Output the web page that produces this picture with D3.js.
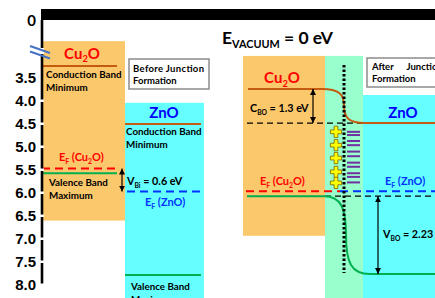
<!DOCTYPE html>
<html>
<head>
<meta charset="utf-8">
<script src="https://cdnjs.cloudflare.com/ajax/libs/d3/7.8.5/d3.min.js"></script>
<style>
body{margin:0;background:#fff;}
svg{display:block;font-family:Lato,"Open Sans",sans-serif;font-weight:bold;}
</style>
</head>
<body>
<div id="chart"></div>
<script>
// energies, eV below vacuum level
var tickValues = [3.5, 4.0, 4.5, 5.0, 5.5, 6.0, 6.5, 7.0, 7.5, 8.0];
var tickLabels = ["3.5", "4.0", "4.5", "5.0", "5.5", "6.0", "6.5", "7.0", "7.5", "8.0"];
var materials = ["Cu2O", "ZnO"];

// before junction formation
var boxTop = [2.7, 4.04];
var boxBottom = [6.6, 8.4];
var cbmBefore = [3.24, 4.5];
var vbmBefore = [5.57, 7.78];
var efBefore = [5.47, 5.97];

// after junction formation
var regionTop = [3.02, 3.02, 3.87];
var regionBottom = [6.93, 8.4, 8.4];
var cbmAfter = [3.74, 4.48];
var vbmAfter = [6.07, 7.76];
var efAfter = 5.96;
var plusLevels = [4.67, 4.96, 5.24, 5.54, 5.78];
var minusLevels = [4.67, 4.74, 4.87, 4.96, 5.10, 5.20, 5.34, 5.43, 5.57, 5.65, 5.77];

var offsetNames = ["Bi", "BO", "BO"];
var offsetValues = ["0.6", "1.3", "2.23"];

var w = 435, h = 298;

var y = d3.scaleLinear().domain([3.5, 8.0]).range([78, 285]);

var svg = d3.select("#chart").append("svg")
  .attr("width", w).attr("height", h);

var defs = svg.append("defs");
defs.append("marker").attr("id", "arr")
  .attr("viewBox", "0 0 6 6").attr("refX", 6).attr("refY", 3)
  .attr("markerWidth", 6).attr("markerHeight", 6)
  .attr("markerUnits", "userSpaceOnUse")
  .attr("orient", "auto-start-reverse")
  .append("path").attr("d", "M0,0L6,3L0,6z").attr("fill", "#000");

var ORANGE = "#FCC86C", CYAN = "#66FFFF", JGREEN = "#99FFCC";
var BROWN = "#C55A11", GREEN = "#00B050", RED = "#FF0000", BLUE = "#0033FF";

function label(x, yy, parts, size, color, anchor) {
  var t = svg.append("text").attr("x", x).attr("y", yy)
    .attr("font-size", size).attr("fill", color || "#000")
    .attr("text-anchor", anchor || "start");
  var shift = 0;
  parts.forEach(function (p) {
    var s = typeof p === "string" ? {t: p} : p;
    var ts = t.append("tspan").text(s.t);
    if (s.sub) {
      ts.attr("font-size", size * 0.62).attr("dy", size * 0.25 - shift);
      shift = size * 0.25;
    } else if (shift) {
      ts.attr("dy", -shift);
      shift = 0;
    }
  });
  return t;
}

function hline(x1, x2, v, color, width, dash) {
  svg.append("line").attr("x1", x1).attr("x2", x2)
    .attr("y1", y(v)).attr("y2", y(v))
    .attr("stroke", color).attr("stroke-width", width)
    .attr("stroke-dasharray", dash || null);
}

function arrow(x, v1, v2) {
  svg.append("line").attr("x1", x).attr("x2", x)
    .attr("y1", y(v1)).attr("y2", y(v2))
    .attr("stroke", "#000").attr("stroke-width", 1.2)
    .attr("marker-start", "url(#arr)").attr("marker-end", "url(#arr)");
}

// ---------- before junction ----------
var boxX = [[42, 125], [125, 204]];
var lineX = [[42, 117], [125, 201]];
var boxFill = [ORANGE, CYAN];

svg.selectAll("rect.before").data(materials).enter().append("rect")
  .attr("class", "before")
  .attr("x", (d, i) => boxX[i][0])
  .attr("width", (d, i) => boxX[i][1] - boxX[i][0])
  .attr("y", (d, i) => y(boxTop[i]))
  .attr("height", (d, i) => y(boxBottom[i]) - y(boxTop[i]))
  .attr("fill", (d, i) => boxFill[i]);

materials.forEach(function (m, i) {
  hline(lineX[i][0], lineX[i][1], cbmBefore[i], BROWN, 2);
  hline(lineX[i][0], lineX[i][1], vbmBefore[i], GREEN, 2);
});
hline(42, 117, efBefore[0], RED, 2, "8,5");
hline(127, 201, efBefore[1], BLUE, 2, "8,5");

label(82, 58.5, ["Cu", {t: "2", sub: true}, "O"], 15, RED, "middle");
label(164, 118, ["ZnO"], 15, "#0000FF", "middle");
label(46, 78, ["Conduction Band"], 9.8);
label(46, 91, ["Minimum"], 9.8);
label(126, 135, ["Conduction Band"], 9.8);
label(126, 148, ["Minimum"], 9.8);
label(49, 186, ["Valence Band"], 9.8);
label(49, 199, ["Maximum"], 9.8);
label(131, 290, ["Valence Band"], 9.8);
label(131, 303, ["Maximum"], 9.8);

label(59, 161, ["E", {t: "F", sub: true}, " (Cu", {t: "2", sub: true}, "O)"], 11, RED);
label(145, 206, ["E", {t: "F", sub: true}, " (ZnO)"], 11, BLUE);

arrow(122, efBefore[0], efBefore[1]);
label(127, 185, ["V", {t: offsetNames[0], sub: true}, " = " + offsetValues[0] + " eV"], 10.8);

svg.append("rect").attr("x", 129).attr("y", 59).attr("width", 80).attr("height", 30)
  .attr("fill", "#fff").attr("stroke", "#8c8c8c").attr("stroke-width", 1.5);
label(133, 72, ["Before Junction"], 9.5).attr("textLength", 71).attr("lengthAdjust", "spacing");
label(133, 84, ["Formation"], 9.5);

// ---------- after junction ----------
var regX = [[243, 325], [325, 363], [363, 435]];
var regFill = [ORANGE, JGREEN, CYAN];
svg.selectAll("rect.after").data(regFill).enter().append("rect")
  .attr("class", "after")
  .attr("x", (d, i) => regX[i][0])
  .attr("width", (d, i) => regX[i][1] - regX[i][0])
  .attr("y", (d, i) => y(regionTop[i]))
  .attr("height", (d, i) => y(regionBottom[i]) - y(regionTop[i]))
  .attr("fill", d => d);

svg.append("rect").attr("x", 367).attr("y", 58).attr("width", 80).attr("height", 29)
  .attr("fill", "#fff").attr("stroke", "#8c8c8c").attr("stroke-width", 1.5);
label(372, 70, ["After Junction"], 9.5).attr("word-spacing", 11);
label(372, 82, ["Formation"], 9.5);

// reference dashed lines
hline(247, 375, cbmAfter[1], "#000", 1.3, "6,4");
hline(325, 435, vbmAfter[0], "#000", 1.3, "6,4");

// bent bands
var xj = 344;
function bent(a, b, x0, x1, x2, x3) {
  var p = d3.path();
  var ya = y(a), yb = y(b), ym = (ya + yb) / 2;
  p.moveTo(x0, ya);
  p.lineTo(x1, ya);
  p.bezierCurveTo(x2 - 5, ya, x2, ya + (ym - ya) * 0.3, x2, ym);
  p.bezierCurveTo(x2, yb - (yb - ym) * 0.3, x2 + 5, yb, x3, yb);
  p.lineTo(435, yb);
  return p.toString();
}
svg.append("path").attr("d", bent(cbmAfter[0], cbmAfter[1], 248, 322, xj, 365))
  .attr("fill", "none").attr("stroke", BROWN).attr("stroke-width", 2);
svg.append("path").attr("d", bent(vbmAfter[0], vbmAfter[1], 247, 324, xj + 2, 370))
  .attr("fill", "none").attr("stroke", GREEN).attr("stroke-width", 2);

// Fermi level after
hline(246, 340, efAfter, RED, 2, "8,5");
hline(340, 435, efAfter, BLUE, 2, "8,5");

// space charge
svg.selectAll("path.plus").data(plusLevels).enter().append("path")
  .attr("class", "plus")
  .attr("transform", d => "translate(336," + y(d) + ")")
  .attr("d", d3.symbol(d3.symbolCross, 70))
  .attr("fill", "#FFFF00").attr("stroke", "#7F6000").attr("stroke-width", 0.8);
svg.selectAll("line.minus").data(minusLevels).enter().append("line")
  .attr("class", "minus")
  .attr("x1", 347).attr("x2", 360)
  .attr("y1", d => y(d)).attr("y2", d => y(d))
  .attr("stroke", "#7030A0").attr("stroke-width", 2);

// junction
svg.append("line").attr("x1", xj).attr("x2", xj).attr("y1", 65).attr("y2", 273)
  .attr("stroke", "#000").attr("stroke-width", 3).attr("stroke-dasharray", "2.5,2");

label(282, 83, ["Cu", {t: "2", sub: true}, "O"], 15, RED, "middle");
label(403, 118, ["ZnO"], 15, "#0000FF", "middle");
label(260, 185, ["E", {t: "F", sub: true}, " (Cu", {t: "2", sub: true}, "O)"], 11, RED);
label(385, 185, ["E", {t: "F", sub: true}, " (ZnO)"], 11, BLUE);

arrow(313, cbmAfter[0], cbmAfter[1]);
label(250, 112, ["C", {t: offsetNames[1], sub: true}, " =  " + offsetValues[1] + " eV"], 10.8);
arrow(378, vbmAfter[0], vbmAfter[1]);
label(383, 238, ["V", {t: offsetNames[2], sub: true}, " = " + offsetValues[2] + " eV"], 10.8);

// ---------- vacuum level + axis ----------
svg.append("rect").attr("x", 41).attr("y", 9).attr("width", w - 41).attr("height", 11).attr("fill", "#000");
label(222, 44, ["E", {t: "VACUUM", sub: true}, " = 0 eV"], 17.5);

var axis = d3.axisLeft(y).tickValues(tickValues)
  .tickFormat((d, i) => tickLabels[i]).tickSize(0).tickPadding(6);
var ag = svg.append("g").attr("transform", "translate(42,0)").call(axis);
ag.select(".domain").remove();
ag.selectAll("text").attr("font-size", 15).attr("font-family", null).attr("fill", "#000").attr("font-weight", "bold");

// axis line, broken between 0 and 3.5, small gaps at ticks
svg.append("line").attr("x1", 42).attr("x2", 42).attr("y1", 20).attr("y2", y(8.0))
  .attr("stroke", "#000").attr("stroke-width", 2.6);
svg.selectAll("rect.gap").data(tickValues.slice(1)).enter().append("rect")
  .attr("class", "gap")
  .attr("x", 40).attr("width", 4).attr("y", d => y(d) - 1.5).attr("height", 2.5)
  .attr("fill", "#fff");
svg.append("rect").attr("x", 40).attr("y", 48).attr("width", 4).attr("height", 6).attr("fill", "#fff");
svg.selectAll("line.brk").data([0, 5.5]).enter().append("line")
  .attr("class", "brk")
  .attr("x1", 30).attr("x2", 50)
  .attr("y1", d => 46 + d).attr("y2", d => 53 + d)
  .attr("stroke", "#4472C4").attr("stroke-width", 2);
label(36, 25.5, ["0"], 15, "#000", "end");
</script>
</body>
</html>
